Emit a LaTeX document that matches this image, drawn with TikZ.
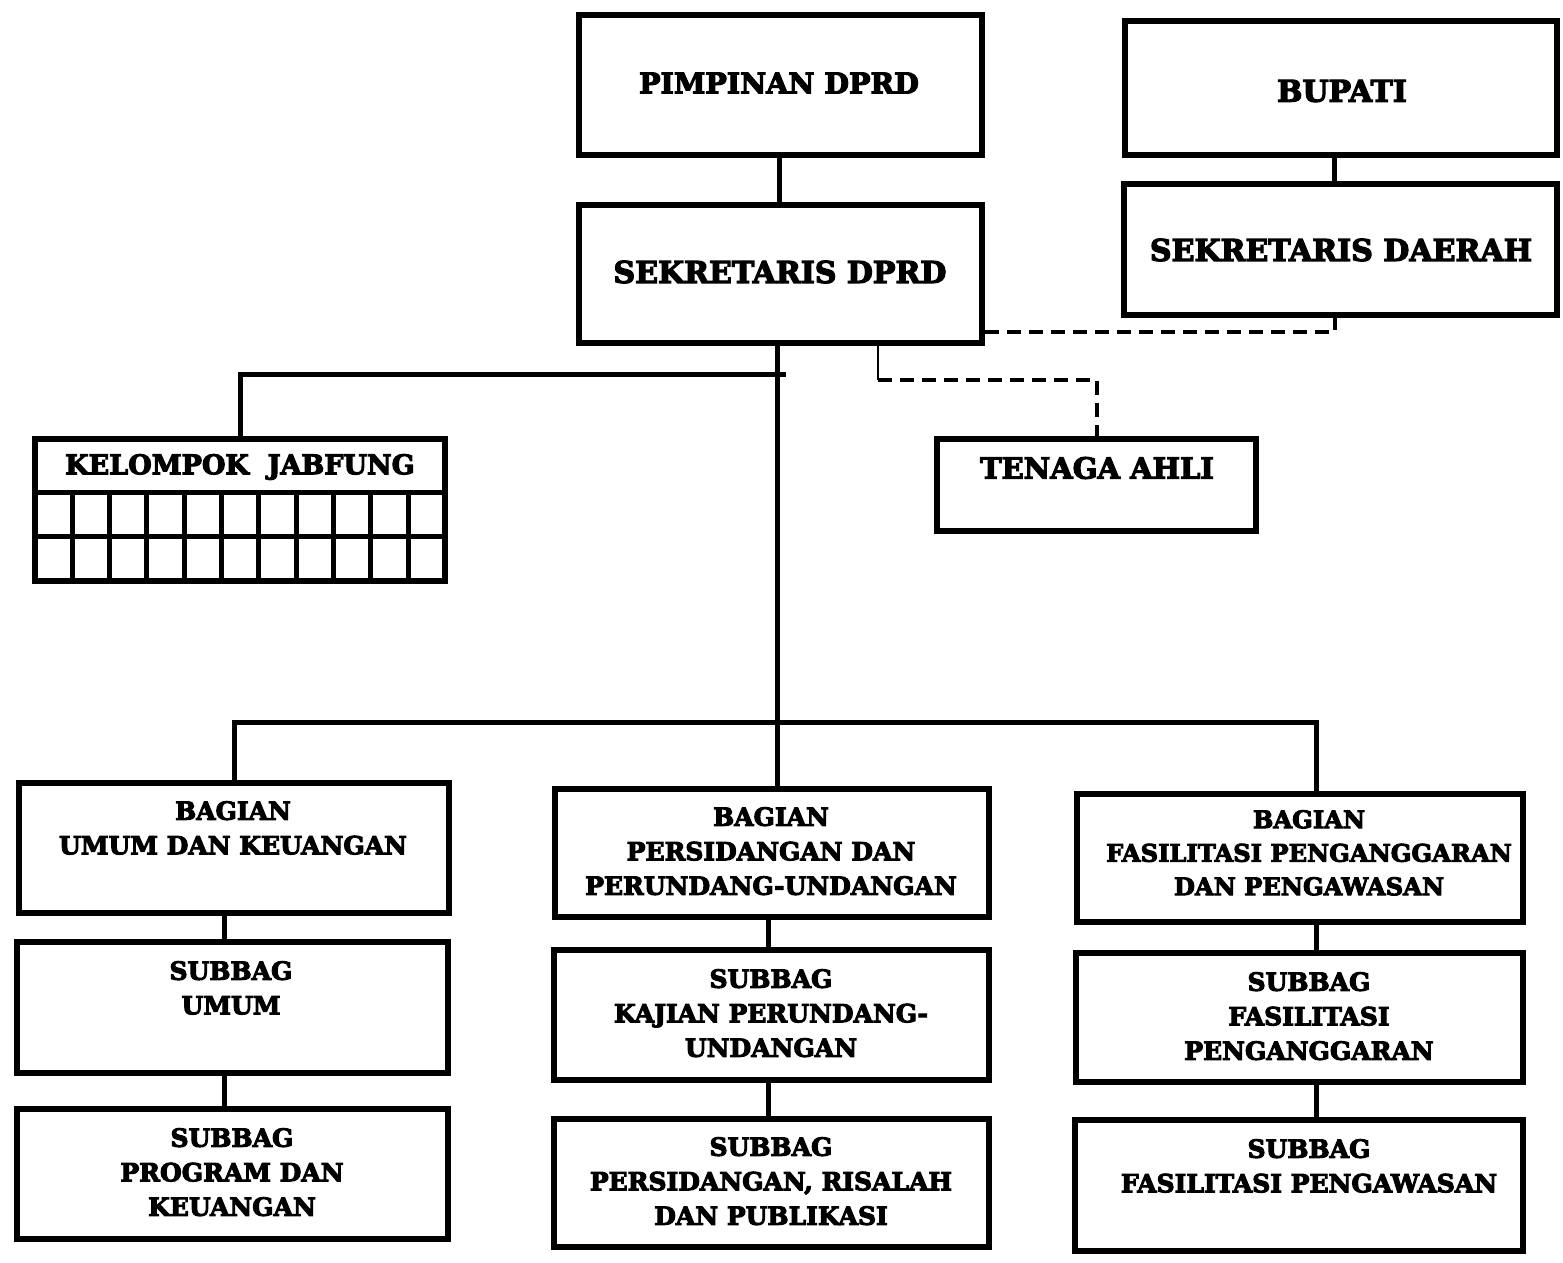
\documentclass[tikz,border=0pt]{standalone}
\usepackage{fontspec}
\setmainfont{DejaVu Serif}[BoldFeatures={FakeBold=4}]
\usetikzlibrary{calc}
\begin{document}
\begin{tikzpicture}[x=1pt,y=-1pt,
  box/.style={draw, line width=6pt, rectangle, inner sep=0pt},
  big/.style={font=\bfseries\fontsize{30}{34}\selectfont, align=center, inner sep=0pt},
  mid/.style={font=\bfseries\fontsize{27}{34}\selectfont, align=center, inner sep=0pt},
  lbl/.style={font=\bfseries\fontsize{25}{34.5}\selectfont, align=center, inner sep=0pt, anchor=north},
  conn/.style={line width=5pt},
  thinconn/.style={line width=2pt},
  dashconn/.style={line width=4pt, dash pattern=on 14pt off 8pt},
  gridline/.style={line width=5pt}]
\useasboundingbox (0,0) rectangle (1563,1262);

% top boxes
\node[box, minimum width=403pt, minimum height=140pt] (pim) at (780.5,85) {};
\node[big, font=\bfseries\fontsize{28.5}{34}\selectfont] (tpim) at (779,83) {PIMPINAN DPRD};
\node[box, minimum width=432pt, minimum height=134pt] (bup) at (1341,88) {};
\node[big] (tbup) at (1342,91) {BUPATI};
\node[box, minimum width=433pt, minimum height=131pt] (sekda) at (1340.5,249.5) {};
\node[big] (tsekda) at (1341,250) {SEKRETARIS DAERAH};
\node[box, minimum width=403pt, minimum height=138pt] (sek) at (780.5,274) {};
\node[big] (tsek) at (780,272) {SEKRETARIS DPRD};

% kelompok jabfung
\node[box, minimum width=410pt, minimum height=142pt] (jab) at (240,510) {};
\node[mid] (tjab) at (240,467) {KELOMPOK\ \ JABFUNG};
\draw[gridline] (35,492) -- (445,492);
\draw[gridline] (35,536) -- (445,536);
\foreach \k in {1,...,10} \draw[gridline] (35+37.3*\k,492) -- ++(0,92);

% tenaga ahli
\node[box, minimum width=319pt, minimum height=92pt] (ta) at (1096.5,485) {};
\node[mid, font=\bfseries\fontsize{29}{34}\selectfont] (tta) at (1097,468) {TENAGA AHLI};

% bagian columns
\node[box, minimum width=430pt, minimum height=130pt] (bu) at (234,848) {};
\node[lbl] (tbu) at (233,801) {BAGIAN\\UMUM DAN KEUANGAN};
\node[box, minimum width=431pt, minimum height=131pt] (su) at (232.5,1007.5) {};
\node[lbl] (tsu) at (231,961) {SUBBAG\\UMUM};
\node[box, minimum width=431pt, minimum height=130pt] (sp) at (232.5,1174) {};
\node[lbl] (tsp) at (232,1128) {SUBBAG\\PROGRAM DAN\\KEUANGAN};

\node[box, minimum width=434pt, minimum height=128pt] (bp) at (772,853) {};
\node[lbl] (tbp) at (771,807) {BAGIAN\\PERSIDANGAN DAN\\PERUNDANG-UNDANGAN};
\node[box, minimum width=435pt, minimum height=130pt] (sk) at (771.5,1015) {};
\node[lbl] (tsk) at (771,969) {SUBBAG\\KAJIAN PERUNDANG-\\UNDANGAN};
\node[box, minimum width=435pt, minimum height=128pt] (sr) at (771.5,1183) {};
\node[lbl] (tsr) at (771,1137) {SUBBAG\\PERSIDANGAN, RISALAH\\DAN PUBLIKASI};

\node[box, minimum width=446pt, minimum height=128pt] (bf) at (1300,858) {};
\node[lbl, font=\bfseries\fontsize{24.2}{33.5}\selectfont] (tbf) at (1309,810) {BAGIAN\\FASILITASI PENGANGGARAN\\DAN PENGAWASAN};
\node[box, minimum width=447pt, minimum height=129pt] (sfp) at (1299.5,1017.5) {};
\node[lbl] (tsfp) at (1309,972) {SUBBAG\\FASILITASI\\PENGANGGARAN};
\node[box, minimum width=448pt, minimum height=131pt] (sfw) at (1299,1185.5) {};
\node[lbl] (tsfw) at (1309,1139) {SUBBAG\\FASILITASI PENGAWASAN};

% connectors
\draw[conn] ([xshift=-1.5pt]pim.south) -- ([xshift=-1.5pt]sek.north);
\draw[conn] ([xshift=-7pt]bup.south) -- ([xshift=-7pt]bup.south |- sekda.north);
\coordinate (hj) at (786,374);
\coordinate (hb) at (776,722);
\draw[conn] ([xshift=-3pt]sek.south) -- ([xshift=-3pt]sek.south |- bp.north);
\draw[conn] (jab.north) |- (hj);
\draw[conn] (bu.north) |- ([xshift=16pt]bf.north |- hb) -- ([xshift=16pt]bf.north);
\draw[conn] ([xshift=-10pt]bu.south) -- ([xshift=-10pt]bu.south |- su.north);
\draw[conn] ([xshift=-10pt]bu.south |- su.south) -- ([xshift=-10pt]bu.south |- sp.north);
\draw[conn] ([xshift=-4pt]bp.south) -- ([xshift=-4pt]bp.south |- sk.north);
\draw[conn] ([xshift=-4pt]bp.south |- sk.south) -- ([xshift=-4pt]bp.south |- sr.north);
\draw[conn] ([xshift=16pt]bf.south) -- ([xshift=16pt]bf.south |- sfp.north);
\draw[conn] ([xshift=16pt]bf.south |- sfp.south) -- ([xshift=16pt]bf.south |- sfw.north);

% dashed relations
\draw[dashconn] ([yshift=-58pt]sek.east) -| ([xshift=-6pt]sekda.south);
\draw[thinconn] ([xshift=97pt]sek.south) -- ++(0,34) coordinate (tb);
\draw[dashconn] (tb) -| (ta.north);
\end{tikzpicture}
\end{document}
